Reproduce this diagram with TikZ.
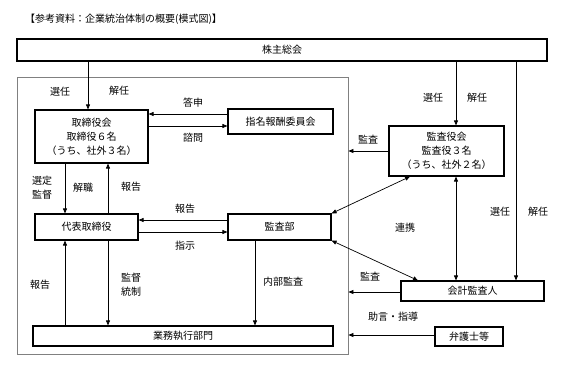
\documentclass[tikz,border=0pt]{standalone}
\usepackage{fontspec}
\setmainfont{Noto Sans CJK JP}
\usetikzlibrary{arrows.meta}
\begin{document}
\begin{tikzpicture}[x=1pt,y=-1pt,
  font=\fontsize{10}{14}\selectfont,
  box/.style={draw=black, line width=1.1pt, inner sep=0pt, align=center},
  arr/.style={-{Triangle[length=5pt,width=4pt]}, line width=0.7pt},
  darr/.style={{Triangle[length=5pt,width=4pt]}-{Triangle[length=5pt,width=4pt]}, line width=0.7pt},
  lbl/.style={inner sep=1pt, align=center}]
\useasboundingbox (0,0) rectangle (567,367);
% title
\node[anchor=west, inner sep=0pt] (title) at (25,19) {【参考資料：企業統治体制の概要(模式図)】};
% outer rectangle
\node[draw=gray, line width=0.8pt, minimum width=331pt, minimum height=277pt, inner sep=0pt] (outer) at (182.5,215.5) {};
% boxes
\node[box, minimum width=530pt, minimum height=22pt] (sh) at (282,50) {株主総会};
\node[box, minimum width=113pt, minimum height=53pt] (tb) at (91.5,136.5) {取締役会\\取締役６名\\（うち、社外３名）};
\node[box, minimum width=105pt, minimum height=25pt] (nc) at (280.5,121.5) {指名報酬委員会};
\node[box, minimum width=115pt, minimum height=50pt] (ka) at (446.5,151) {監査役会\\監査役３名\\（うち、社外２名）};
\node[box, minimum width=103pt, minimum height=26pt] (dt) at (86.5,227) {代表取締役};
\node[box, minimum width=103pt, minimum height=26pt] (kb) at (279.5,227) {監査部};
\node[box, minimum width=143pt, minimum height=20pt] (kk) at (472.5,291) {会計監査人};
\node[box, minimum width=68pt, minimum height=19pt] (bg) at (469,336.5) {弁護士等};
\node[box, minimum width=300pt, minimum height=20pt] (gy) at (183,336) {業務執行部門};
% helper coordinates
\coordinate (x65) at (65,0);
\coordinate (x88) at (88,0);
\coordinate (x108) at (108,0);
\coordinate (x255) at (255,0);
\coordinate (x410) at (410,0);
\coordinate (x418) at (418,0);
\coordinate (x456) at (456,0);
\coordinate (x516) at (516,0);
\coordinate (y114) at (0,114);
\coordinate (y126) at (0,126);
\coordinate (y220) at (0,220);
\coordinate (y232) at (0,232);
\coordinate (y292) at (0,292);
\coordinate (y335) at (0,335);
% connectors
\draw[arr] (sh.south -| x88) -- (tb.north -| x88);
\draw[arr] (nc.west |- y114) -- (tb.east |- y114);
\draw[arr] (tb.east |- y126) -- (nc.west |- y126);
\draw[arr] (sh.south -| x456) -- (ka.north -| x456);
\draw[arr] (sh.south -| x516) -- (kk.north -| x516);
\draw[arr] (ka.west) -- (outer.east |- ka.west);
\draw[arr] (tb.south -| x65) -- (dt.north -| x65);
\draw[arr] (dt.north -| x108) -- (tb.south -| x108);
\draw[arr] (kb.west |- y220) -- (dt.east |- y220);
\draw[arr] (dt.east |- y232) -- (kb.west |- y232);
\draw[darr] (ka.south -| x410) -- (kb.north east);
\draw[darr] (kb.south east) -- (kk.north -| x418);
\draw[darr] (ka.south -| x456) -- (kk.north -| x456);
\draw[arr] (kk.west |- y292) -- (outer.east |- y292);
\draw[arr] (bg.west |- y335) -- (outer.east |- y335);
\draw[arr] (gy.north -| x65) -- (dt.south -| x65);
\draw[arr] (dt.south -| x108) -- (gy.north -| x108);
\draw[arr] (kb.south -| x255) -- (gy.north -| x255);
% labels
\node[lbl] (l1) at (60,92) {選任};
\node[lbl] (l2) at (119,91) {解任};
\node[lbl] (l3) at (193,103) {答申};
\node[lbl] (l4) at (193,138) {諮問};
\node[lbl] (l5) at (433,98) {選任};
\node[lbl] (l6) at (477,98) {解任};
\node[lbl] (l7) at (368,140) {監査};
\node[lbl] (l8) at (42,188) {選定\\監督};
\node[lbl] (l9) at (83,188) {解職};
\node[lbl] (l10) at (131,187) {報告};
\node[lbl] (l11) at (185,209) {報告};
\node[lbl] (l12) at (185,246) {指示};
\node[lbl] (l13) at (405,228) {連携};
\node[lbl] (l14) at (500,212) {選任};
\node[lbl] (l15) at (538,212) {解任};
\node[lbl] (l16) at (370,277) {監査};
\node[lbl] (l17) at (393,317) {助言・指導};
\node[lbl] (l18) at (40,285) {報告};
\node[lbl] (l19) at (131,285) {監督\\統制};
\node[lbl] (l20) at (283,282) {内部監査};
\end{tikzpicture}
\end{document}
